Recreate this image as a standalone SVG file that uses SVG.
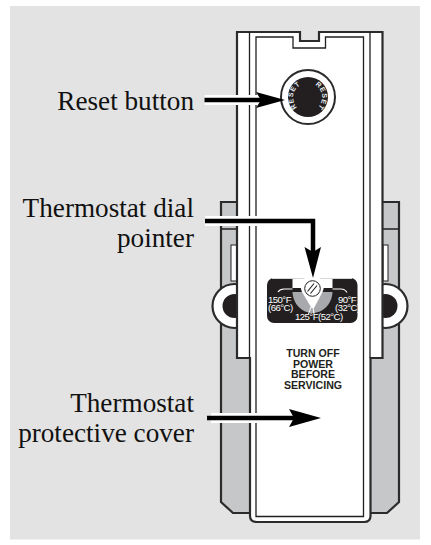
<svg xmlns="http://www.w3.org/2000/svg" width="431" height="545" viewBox="0 0 431 545">
<style>
.ln{fill:none;stroke:#231f20;stroke-width:1.3}
.ol{stroke:#2b2b2b;stroke-width:2.2;stroke-linejoin:miter}
.lab{font-family:"Liberation Serif",serif;font-size:27.2px;fill:#111;text-anchor:end}
.dt{font-family:"Liberation Sans",Arial,sans-serif;font-size:9.6px;fill:#fff;letter-spacing:-.55px;word-spacing:-2px}
.warn{font-family:"Liberation Sans",Arial,sans-serif;font-weight:700;font-size:10.6px;fill:#231f20;text-anchor:middle}
.rs{font-family:"Liberation Sans",Arial,sans-serif;font-weight:700;font-size:7px;fill:#e8eef5;letter-spacing:.6px;text-anchor:middle}
.halo{fill:none;stroke:#fff;stroke-width:10}
.shaft{fill:none;stroke:#000;stroke-width:4.5}
</style>
<defs>
<path id="a1" d="M296 106A14 14 0 0 1 299 86"/>
<path id="a2" d="M317 86.300A14 14 0 0 1 319 106"/>
</defs>
<rect width="431" height="545" fill="#fff"/>
<rect x="10" y="6" width="410" height="533.500" fill="#e3e3e3"/>
<g id="cover-back">
<path class="ol" fill="#c6c7c9" d="M221 202H399V502L387 513H233L221 502Z"/>
<path class="ln" d="M221 229H237M383 229H399"/>
<rect x="231" y="245" width="6" height="36" fill="#fff" stroke="#231f20"/>
<rect x="383" y="245" width="5" height="36" fill="#fff" stroke="#231f20"/>
<circle class="ol" cx="234.500" cy="306" r="22" fill="#fff"/>
<circle class="ol" cx="385.500" cy="306" r="22" fill="#fff"/>
<circle cx="234.500" cy="306" r="12" fill="#231f20"/>
<circle cx="385.500" cy="306" r="12" fill="#231f20"/>
</g>
<g id="body">
<path class="ol" fill="#fff" d="M237 32H300V41H319V32H382.500V358H370.500V516Q370.500 522 364 522H257Q250 522 250 516V358H237Z"/>
<path class="ln" d="M249.500 32V358M370 32V358"/>
<path class="ln" d="M256 37H293V48H325.500V37H363.500V516.500H256Z"/>
</g>
<g id="reset-dial">
<circle cx="308" cy="97" r="27" fill="#fff" stroke="#2b2b2b" stroke-width="2"/>
<circle cx="308" cy="97" r="20" fill="#231f20"/>
<text class="rs"><textPath href="#a1" startOffset="50%">RESET</textPath></text>
<text class="rs"><textPath href="#a2" startOffset="50%">RESET</textPath></text>
</g>
<g id="thermostat-dial">
<rect x="267" y="278" width="90.500" height="45" rx="7" fill="#231f20"/>
<path fill="none" stroke="#d8d8d8" d="M272 278.500H352"/>
<path fill="#a7a9ac" d="M292.500 292H332.500C332 304 323 313 312.500 313C302 313 293 304 292.500 292Z"/>
<path fill="#fff" d="M292.500 279H332.500V288H322V292H303V288H292.500Z"/>
<path fill="none" stroke="#fff" stroke-width="1.200" d="M278 292Q280 289 284 289H292.500M332.500 289H341Q345 289 347 292.500"/>
<path fill="#fff" d="M302 292A11.500 11.500 0 1 1 322 293L314 308H311.500Z"/>
<path fill="none" stroke="#fff" d="M311 307L308.500 314M313 307L314 314"/>
<circle cx="312.500" cy="288.500" r="7.800" fill="#fff" stroke="#231f20"/>
<path fill="none" stroke="#231f20" stroke-width="1.100" d="M307.500 291.500L314 283.500M310.500 293.500L317 285.500"/>
<text class="dt" x="268" y="302.500">150°F</text>
<text class="dt" x="268" y="310.500">(66°C)</text>
<text class="dt" x="338" y="302.500">90°F</text>
<text class="dt" x="335" y="310.500">(32°C)</text>
<text class="dt" x="295" y="320">125°F (52°C)</text>
</g>
<g id="warning">
<text class="warn" x="313" y="357">TURN OFF</text>
<text class="warn" x="313" y="367.500">POWER</text>
<text class="warn" x="313" y="378">BEFORE</text>
<text class="warn" x="313" y="388.500">SERVICING</text>
</g>
<g id="connectors">
<path class="halo" d="M204.500 100H258"/>
<path class="shaft" d="M204.500 100H262"/>
<path d="M285 100L256 92L261 100L256 108Z" fill="#000"/>
<path class="halo" d="M205 221H257"/>
<path class="shaft" d="M205 221H313V252"/>
<path d="M313 278L304.500 247L313 252L321 247Z" fill="#000"/>
<path class="halo" d="M211 418H257"/>
<path class="shaft" d="M207 418H294"/>
<path d="M321 418L289 409L294 418L289 427Z" fill="#000"/>
</g>
<g id="labels">
<text class="lab" x="194" y="110">Reset button</text>
<text class="lab" x="194" y="216.500">Thermostat dial</text>
<text class="lab" x="194" y="247">pointer</text>
<text class="lab" x="194" y="412">Thermostat</text>
<text class="lab" x="194" y="442">protective cover</text>
</g>
</svg>
